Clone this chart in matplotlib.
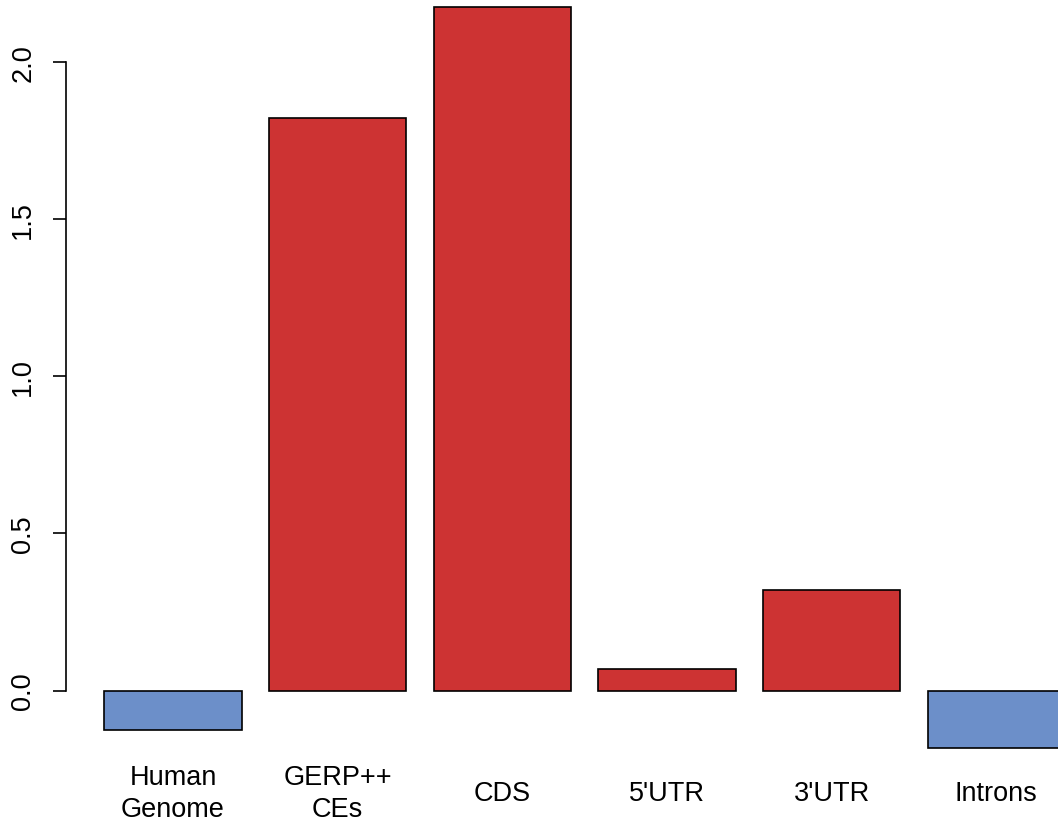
# bar chart of enrichment values per genomic region, base-R barplot look
import matplotlib
matplotlib.use("Agg")
import matplotlib.pyplot as plt
import matplotlib.transforms as mtransforms

plt.rcParams["font.family"] = ["Liberation Sans", "DejaVu Sans"]

categories = ["Human\nGenome", "GERP++\nCEs", "CDS", "5'UTR", "3'UTR", "Introns"]
values = [-0.125, 1.821, 2.175, 0.068, 0.320, -0.183]

RED = "#CD3333"
BLUE = "#6C8FC9"
colors = [RED if v > 0 else BLUE for v in values]

W, H, DPI = 1058, 828, 100

# R barplot geometry: width 1, space 0.2, 4% axis padding
centers = [0.7 + 1.2 * i for i in range(len(values))]
xlim = (-0.08, 7.48)
ymin, ymax = min(values), max(values)
pad = 0.04 * (ymax - ymin)
ylim = (ymin - pad, ymax + pad)

px_x = 137.2          # pixels per x unit
px_y = 314.25         # pixels per y unit
left_px = 66.0
zero_px = 691.5       # pixel row of y = 0 (from top)

ax_left = left_px / W
ax_width = (xlim[1] - xlim[0]) * px_x / W
ax_top_px = zero_px - ylim[1] * px_y
ax_height_px = (ylim[1] - ylim[0]) * px_y
ax_bottom = 1 - (ax_top_px + ax_height_px) / H
ax_height = ax_height_px / H

fig = plt.figure(figsize=(W / DPI, H / DPI), dpi=DPI)
ax = fig.add_axes([ax_left, ax_bottom, ax_width, ax_height])

ax.bar(centers, values, width=1.0, color=colors, edgecolor="black", linewidth=1.2)
ax.set_xlim(*xlim)
ax.set_ylim(*ylim)

for s in ["top", "right", "bottom"]:
    ax.spines[s].set_visible(False)
ax.spines["left"].set_bounds(0, 2.0)
ax.spines["left"].set_linewidth(1.2)

ax.set_xticks([])
ax.set_yticks([0, 0.5, 1.0, 1.5, 2.0])
ax.set_yticklabels(["0.0", "0.5", "1.0", "1.5", "2.0"], rotation=90, va="center")
ax.tick_params(axis="y", length=9.5, width=1.2, pad=12, labelsize=19.5)

# category labels under the bars
trans = mtransforms.blended_transform_factory(ax.transData, fig.transFigure)
for x, name in zip(centers, categories):
    ax.text(x, 1 - 794 / H, name, transform=trans, ha="center", va="center",
            fontsize=19.5, linespacing=1.3)

fig.savefig("out.png", dpi=DPI)
